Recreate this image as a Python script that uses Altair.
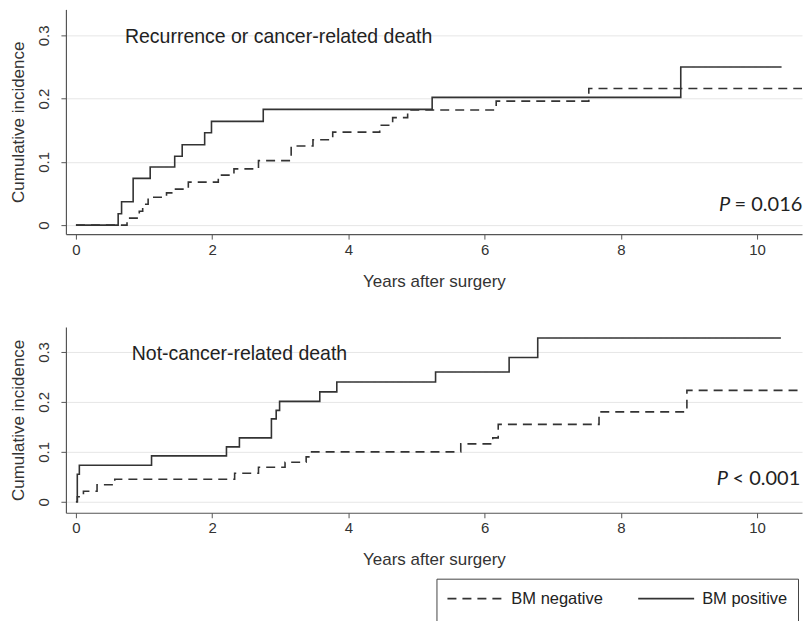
import altair as alt
import pandas as pd

# ---- data ----
top_pos_t = [0, 0.62, 0.67, 0.84, 1.09, 1.45, 1.56, 1.89, 1.99, 2.75, 5.23, 8.88, 10.36]
top_pos_v = [0, 0.018, 0.037, 0.074, 0.092, 0.109, 0.127, 0.146, 0.164, 0.183, 0.202, 0.250, 0.250]

top_neg_t = [0, 0.75, 0.93, 0.98, 1.06, 1.33, 1.43, 1.65, 2.09, 2.32, 2.68, 3.16, 3.48, 3.77,
             4.46, 4.65, 4.87, 6.17, 7.53, 10.9]
top_neg_v = [0, 0.011, 0.022, 0.033, 0.044, 0.051, 0.057, 0.068, 0.079, 0.089, 0.102, 0.125, 0.135, 0.147,
             0.158, 0.170, 0.182, 0.196, 0.216, 0.216]

bot_pos_t = [0, 0.02, 0.05, 1.11, 2.21, 2.40, 2.87, 2.94, 2.99, 3.58, 3.83, 5.28, 6.36, 6.78, 10.35]
bot_pos_v = [0, 0.055, 0.073, 0.092, 0.110, 0.128, 0.166, 0.183, 0.201, 0.220, 0.240, 0.260, 0.289, 0.328, 0.328]

bot_neg_t = [0, 0.02, 0.11, 0.31, 0.57, 2.33, 2.68, 3.07, 3.38, 3.46, 5.65, 6.12, 6.20, 7.68, 8.97, 10.9]
bot_neg_v = [0, 0.010, 0.021, 0.034, 0.045, 0.057, 0.069, 0.079, 0.090, 0.100, 0.116, 0.128, 0.155, 0.180, 0.223, 0.223]

groups = ["BM negative", "BM positive"]
panel_titles = ["Recurrence or cancer-related death", "Not-cancer-related death"]
p_signs = ["= 0.016", "< 0.001"]
x_ticks = [0, 2, 4, 6, 8, 10]
y_ticks = [0, 0.1, 0.2, 0.3]

LINE = "#333333"
FONT = "Liberation Sans"
X_DOMAIN = [-0.147, 10.66]


def series_df(pos_t, pos_v, neg_t, neg_v):
    return pd.DataFrame({
        "t": list(neg_t) + list(pos_t),
        "v": list(neg_v) + list(pos_v),
        "group": [groups[0]] * len(neg_t) + [groups[1]] * len(pos_t),
    })


def panel(df, title, title_xy, p_sign, p_xy, y_dom, height):
    xs = alt.Scale(domain=X_DOMAIN, nice=False, zero=False)
    ys = alt.Scale(domain=y_dom, nice=False, zero=False)
    lines = alt.Chart(df).mark_line(interpolate="step-after", color=LINE, strokeWidth=1.6, clip=True).encode(
        x=alt.X("t:Q", scale=xs, axis=alt.Axis(values=x_ticks, title="Years after surgery", grid=False,
                                                 format="d", labelPadding=3, titlePadding=16)),
        y=alt.Y("v:Q", scale=ys, axis=alt.Axis(values=y_ticks, title="Cumulative incidence", format="~g",
                                                 labelAngle=-90, labelPadding=9, titlePadding=9)),
        strokeDash=alt.StrokeDash("group:N", scale=alt.Scale(domain=groups, range=[[9, 6], [1, 0]]),
                                  legend=alt.Legend(title=" ", titleOrient="bottom", titleFontSize=14,
                                                    titlePadding=4)),
        detail="group:N",
    )
    tdf = pd.DataFrame({"x": [title_xy[0]], "y": [title_xy[1]], "label": [title]})
    ttl = alt.Chart(tdf).mark_text(align="left", baseline="alphabetic", font=FONT, fontSize=19.5,
                                   color="#222222").encode(
        x=alt.X("x:Q", scale=xs), y=alt.Y("y:Q", scale=ys), text="label:N")
    pdf = pd.DataFrame({"x": [p_xy[0]], "y": [p_xy[1]], "label": ["P"]})
    pt = alt.Chart(pdf).mark_text(align="left", baseline="alphabetic", font="Lato", fontSize=20,
                                  fontStyle="italic", color="#222222").encode(
        x=alt.X("x:Q", scale=xs), y=alt.Y("y:Q", scale=ys), text="label:N")
    sdf = pd.DataFrame({"x": [p_xy[0] + 0.23], "y": [p_xy[1]], "label": [p_sign]})
    ps = alt.Chart(sdf).mark_text(align="left", baseline="alphabetic", font="Lato", fontSize=20,
                                  color="#222222").encode(
        x=alt.X("x:Q", scale=xs), y=alt.Y("y:Q", scale=ys), text="label:N")
    return alt.layer(lines, ttl, pt, ps).properties(width=737, height=height)


top = panel(series_df(top_pos_t, top_pos_v, top_neg_t, top_neg_v), panel_titles[0], (0.72, 0.288),
            p_signs[0], (9.44, 0.022), [-0.0142, 0.3411], 225)
bot = panel(series_df(bot_pos_t, bot_pos_v, bot_neg_t, bot_neg_v), panel_titles[1], (0.82, 0.284),
            p_signs[1], (9.41, 0.033), [-0.022, 0.35], 186)

chart = alt.vconcat(top, bot, spacing=38).properties(
    padding={"left": 1, "top": 1, "right": 0, "bottom": 0}
).configure_view(stroke=None).configure_axis(
    labelFont=FONT, titleFont=FONT, labelFontSize=15, titleFontSize=17, titleFontWeight="normal",
    labelColor="#333333", titleColor="#333333", domainColor="#555555", tickColor="#555555",
    gridColor="#e6e6e6", tickSize=5, domainWidth=1.2,
).configure_legend(
    orient="none", legendX=371, legendY=570, direction="horizontal",
    strokeColor="#444444", fillColor="white", padding=10, clipHeight=20,
    symbolType="stroke", symbolSize=3136, symbolStrokeWidth=1.6, symbolStrokeColor=LINE,
    labelFont=FONT, labelFontSize=16.5, labelColor="#222222", labelOffset=7, columnPadding=34,
)

chart.save("out.html", embed_options={"renderer": "svg", "actions": False})
